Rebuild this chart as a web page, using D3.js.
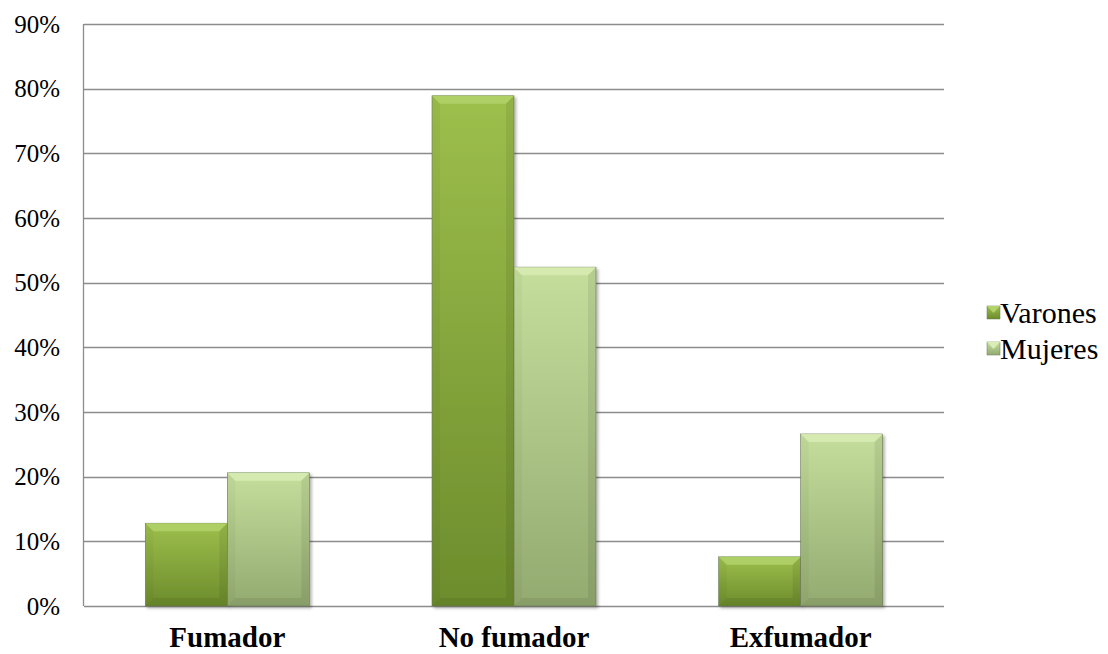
<!DOCTYPE html>
<html>
<head>
<meta charset="utf-8">
<script src="https://d3js.org/d3.v7.min.js"></script>
<style>
  body { margin: 0; background: #fff; }
  text { font-family: "Times New Roman", Times, "Liberation Serif", serif; }
</style>
</head>
<body>
<svg id="chart" width="1108" height="654"></svg>
<script>
// data
var categories = ["Fumador", "No fumador", "Exfumador"];
var seriesNames = ["Varones", "Mujeres"];
var varones = [0.128, 0.789, 0.076];
var mujeres = [0.206, 0.524, 0.266];
var yTicks = [0, 0.1, 0.2, 0.3, 0.4, 0.5, 0.6, 0.7, 0.8, 0.9];

var svg = d3.select("#chart");
var margin = {left: 84, right: 164, top: 24, bottom: 48};
var width = 1108 - margin.left - margin.right,
    height = 654 - margin.top - margin.bottom;

var x0 = d3.scaleBand().domain(categories).range([0, width])
  .paddingInner(0.428).paddingOuter(0.214);
var x1 = d3.scaleBand().domain(seriesNames).range([0, x0.bandwidth()]);
var y = d3.scaleLinear().domain([0, 0.9]).range([height, 0]);

// colours: [top, bottom, bevel]
var colors = {
  Varones: ["#9dbf4c", "#6c8c2c", "#b2d26a"],
  Mujeres: ["#c5de9c", "#93aa70", "#d8ecb4"]
};

var defs = svg.append("defs");
seriesNames.forEach(function (s, i) {
  var g = defs.append("linearGradient").attr("id", "grad" + i)
    .attr("x1", 0).attr("y1", 0).attr("x2", 0).attr("y2", 1);
  g.append("stop").attr("offset", "0%").attr("stop-color", colors[s][0]);
  g.append("stop").attr("offset", "100%").attr("stop-color", colors[s][1]);
});
var f = defs.append("filter").attr("id", "shadow")
  .attr("x", "-10%").attr("y", "-10%").attr("width", "130%").attr("height", "130%");
f.append("feDropShadow").attr("dx", 2).attr("dy", 2).attr("stdDeviation", 1.5)
  .attr("flood-color", "#000").attr("flood-opacity", 0.3);

var g = svg.append("g").attr("transform", "translate(" + margin.left + "," + margin.top + ")");

// grid lines
g.append("g").selectAll("line").data(yTicks).enter().append("line")
  .attr("x1", 0).attr("x2", width)
  .attr("y1", function (d) { return Math.round(y(d)) + 0.5; })
  .attr("y2", function (d) { return Math.round(y(d)) + 0.5; })
  .attr("stroke", "#8c8c8c").attr("stroke-width", 1.3);

// y axis line
g.append("line").attr("x1", -0.5).attr("x2", -0.5)
  .attr("y1", 0).attr("y2", height).attr("stroke", "#8c8c8c").attr("stroke-width", 1.3);

// y tick labels
g.append("g").selectAll("text").data(yTicks).enter().append("text")
  .attr("x", -24).attr("y", function (d) { return y(d); })
  .attr("dy", "0.35em").attr("text-anchor", "end")
  .style("font-size", "25px").attr("fill", "#000")
  .text(function (d) { return d3.format(".0%")(d); });

// x labels
g.append("g").selectAll("text").data(categories).enter().append("text")
  .attr("x", function (d) { return x0(d) + x0.bandwidth() / 2; })
  .attr("y", height + 41).attr("text-anchor", "middle")
  .style("font-size", "29px").style("font-weight", "bold")
  .text(function (d) { return d; });

// bars
var rows = categories.map(function (c, i) {
  return [{s: "Varones", i: 0, v: varones[i]}, {s: "Mujeres", i: 1, v: mujeres[i]}];
});
var groups = g.append("g").selectAll("g").data(rows).enter().append("g")
  .attr("transform", function (d, i) { return "translate(" + x0(categories[i]) + ",0)"; });

var bars = groups.selectAll("g").data(function (d) { return d; }).enter().append("g");
bars.append("rect")
  .attr("x", function (d) { return x1(d.s); })
  .attr("y", function (d) { return y(d.v); })
  .attr("width", x1.bandwidth())
  .attr("height", function (d) { return height - y(d.v); })
  .attr("fill", function (d) { return "url(#grad" + d.i + ")"; })
  .attr("stroke", "#6b7a55").attr("stroke-width", 0.6)
  .attr("filter", "url(#shadow)");

// top bevel
var bv = 8;
bars.append("path")
  .attr("d", function (d) {
    var x = x1(d.s), w = x1.bandwidth(), t = y(d.v);
    return "M" + x + "," + t + "L" + (x + w) + "," + t + "L" + (x + w - bv) + "," + (t + bv) +
      "L" + (x + bv) + "," + (t + bv) + "Z";
  })
  .attr("fill", function (d) { return colors[d.s][2]; }).attr("opacity", 0.85);
// side bevels
bars.append("path")
  .attr("d", function (d) {
    var x = x1(d.s), t = y(d.v), b = height;
    return "M" + x + "," + t + "L" + (x + bv) + "," + (t + bv) + "L" + (x + bv) + "," + (b - bv) +
      "L" + x + "," + b + "Z";
  })
  .attr("fill", "#000").attr("opacity", 0.03);
bars.append("path")
  .attr("d", function (d) {
    var x = x1(d.s), w = x1.bandwidth(), t = y(d.v), b = height;
    return "M" + (x + w) + "," + t + "L" + (x + w - bv) + "," + (t + bv) + "L" + (x + w - bv) + "," + (b - bv) +
      "L" + (x + w) + "," + b + "Z";
  })
  .attr("fill", "#000").attr("opacity", 0.07);
bars.append("path")
  .attr("d", function (d) {
    var x = x1(d.s), w = x1.bandwidth(), b = height;
    return "M" + x + "," + b + "L" + (x + bv) + "," + (b - bv) + "L" + (x + w - bv) + "," + (b - bv) +
      "L" + (x + w) + "," + b + "Z";
  })
  .attr("fill", "#000").attr("opacity", 0.07);

// legend
var legend = svg.append("g").attr("transform", "translate(987,312)");
var items = legend.selectAll("g").data(seriesNames).enter().append("g")
  .attr("transform", function (d, i) { return "translate(0," + (i * 36) + ")"; });
items.append("rect").attr("x", 0).attr("y", -6).attr("width", 13).attr("height", 13)
  .attr("fill", function (d, i) { return "url(#grad" + i + ")"; })
  .attr("stroke", "#6b7a55").attr("stroke-width", 0.5);
items.append("path").attr("d", "M0,-6L13,-6L6.5,1Z")
  .attr("fill", function (d) { return colors[d][2]; });
items.append("text").attr("x", 13).attr("y", 0).attr("dy", "0.35em")
  .style("font-size", "30px").text(function (d) { return d; });
</script>
</body>
</html>
